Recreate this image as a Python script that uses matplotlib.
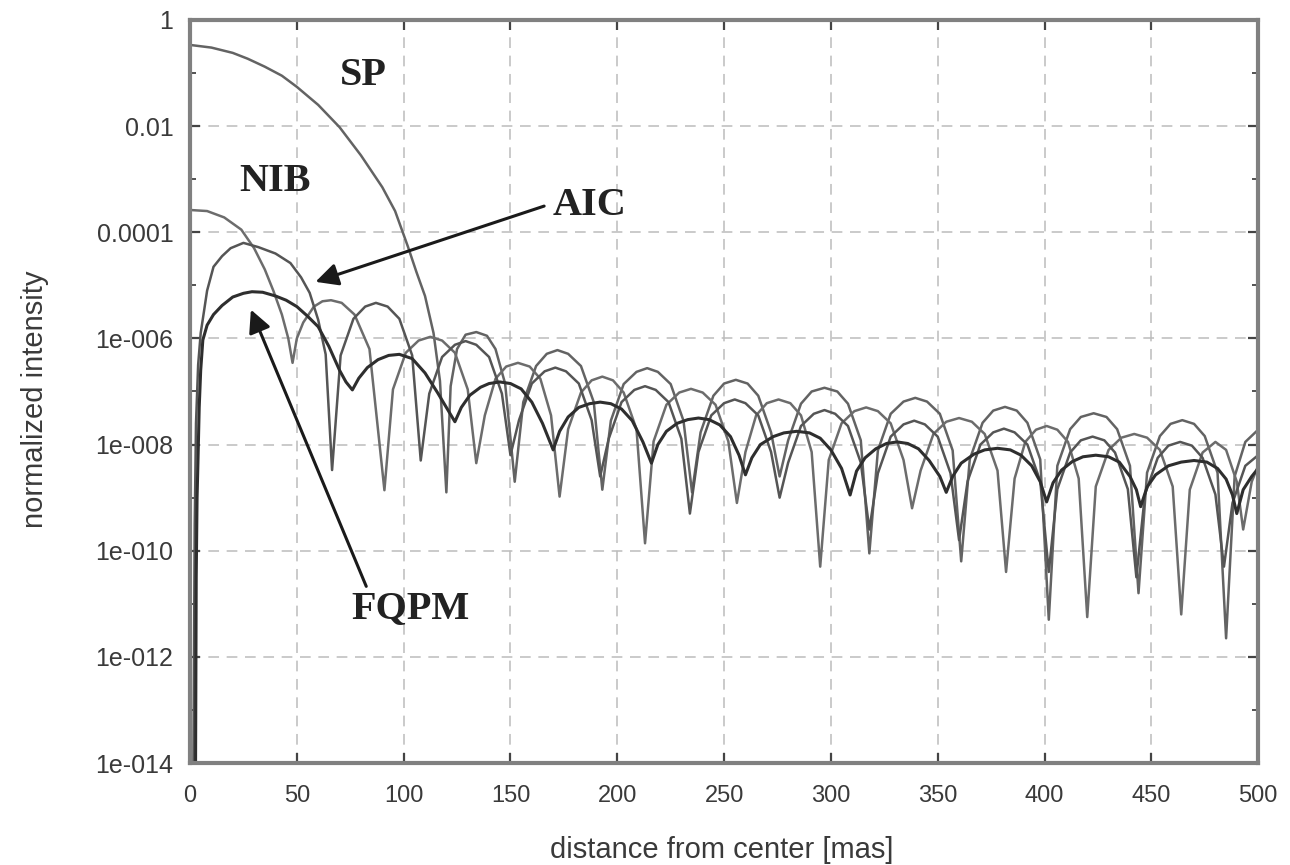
import matplotlib
matplotlib.use("Agg")
import matplotlib.pyplot as plt
import numpy as np
from matplotlib.ticker import FixedLocator, FixedFormatter, NullFormatter

# ---- data: distance [mas] and log10(normalized intensity) -------------------
sp_x = [0, 10, 20, 27, 35, 43, 50, 60, 70, 80, 90, 96, 102, 106, 110, 114, 117, 120,
        122, 125, 129, 134, 139, 143, 147.5, 152,
        156, 162, 167, 172, 177, 183, 189, 193,
        197, 203, 209, 214, 219, 225, 231, 235,
        239, 245, 250, 255.5, 261, 266, 272, 276,
        280, 286, 291, 297, 303, 308, 314, 318,
        322, 328, 334, 339.5, 345, 351, 357, 361,
        365, 371, 376, 381.5, 387, 392, 398, 402,
        406, 412, 417, 423, 429, 434, 440, 444,
        448, 454, 459, 464.5, 470, 475, 481, 485,
        489, 494, 500]
sp_y = [-0.47, -0.52, -0.62, -0.73, -0.88, -1.05, -1.26, -1.6, -2.02, -2.55, -3.15, -3.6, -4.27, -4.75, -5.2, -5.9, -6.8, -8.9,
        -6.9, -6.2, -5.93, -5.88, -5.95, -6.2, -6.85, -8.7,
        -7.2, -6.52, -6.29, -6.22, -6.29, -6.52, -7.2, -8.85,
        -7.55, -6.86, -6.63, -6.56, -6.63, -6.86, -7.55, -8.9,
        -7.77, -7.08, -6.85, -6.78, -6.85, -7.08, -7.77, -8.6,
        -7.92, -7.23, -7.0, -6.93, -7.0, -7.23, -7.92, -10.05,
        -8.11, -7.42, -7.19, -7.12, -7.19, -7.42, -8.11, -10.2,
        -8.28, -7.59, -7.36, -7.29, -7.36, -7.59, -8.28, -11.3,
        -8.4, -7.71, -7.48, -7.41, -7.48, -7.71, -8.4, -10.8,
        -8.53, -7.84, -7.61, -7.54, -7.61, -7.84, -8.53, -11.65,
        -8.6, -7.95, -7.72]

nib_x = [0, 8, 16, 24, 30, 35, 39, 43, 46, 48,
         50, 53, 58, 62, 66, 71, 77, 84, 91,
         95, 101, 107, 112.5, 118, 124, 130, 134,
         138, 143, 148, 153.5, 159, 164, 169, 173,
         177, 183, 188, 193, 198, 203, 209, 213,
         217, 223, 229, 234.5, 240, 246, 252, 256,
         260, 265, 270, 275.5, 281, 286, 291, 295,
         299, 305, 311, 316.5, 322, 328, 334, 338,
         342, 348, 354, 360, 366, 372, 378, 382,
         386, 391, 396, 401, 406, 411, 416, 420,
         424, 430, 436, 442, 448, 454, 460, 464,
         468, 474, 480, 485, 490, 493, 497, 500]
nib_y = [-3.58, -3.6, -3.72, -3.95, -4.3, -4.7, -5.1, -5.55, -6.0, -6.46,
         -6.0, -5.7, -5.4, -5.3, -5.28, -5.33, -5.55, -6.2, -8.86,
         -6.96, -6.27, -6.04, -5.97, -6.04, -6.27, -6.96, -8.35,
         -7.45, -6.76, -6.53, -6.46, -6.53, -6.76, -7.45, -8.98,
         -7.71, -7.02, -6.79, -6.72, -6.79, -7.02, -7.71, -9.86,
         -7.94, -7.25, -7.02, -6.95, -7.02, -7.25, -7.94, -9.1,
         -8.14, -7.45, -7.22, -7.15, -7.22, -7.45, -8.14, -10.3,
         -8.29, -7.6, -7.37, -7.3, -7.37, -7.6, -8.29, -9.2,
         -8.49, -7.8, -7.57, -7.5, -7.57, -7.8, -8.49, -10.4,
         -8.64, -7.95, -7.72, -7.65, -7.72, -7.95, -8.64, -11.25,
         -8.79, -8.1, -7.87, -7.8, -7.87, -8.1, -8.79, -11.2,
         -8.85, -8.15, -7.95, -8.1, -8.7, -9.6, -8.7, -8.4]

aic_x = [1.6, 2.2, 2.8, 3.8, 5, 8, 11, 15, 19, 25, 32, 40, 47, 52, 56, 60, 63.5, 66.5,
         70.5, 76.5, 82, 87, 92.5, 98, 104, 108,
         112, 118, 124, 129, 134, 140, 146, 150,
         154, 160, 166, 171, 176, 182, 188, 192,
         196, 202, 208, 213, 218, 224, 230, 234,
         238, 244, 250, 255, 260, 266, 272, 276,
         280, 286, 292, 297, 302, 308, 314, 318,
         322, 328, 334, 339, 344, 350, 356, 360,
         364, 370, 376, 381, 386, 392, 398, 402,
         406, 412, 417, 422.5, 428, 433, 439, 443,
         447, 453, 458, 463.5, 469, 474, 480, 484,
         488, 494, 500]
aic_y = [-14, -9.5, -7.6, -6.5, -5.9, -5.1, -4.65, -4.45, -4.3, -4.2, -4.28, -4.4, -4.58, -4.85, -5.14, -5.65, -6.3, -8.48,
         -6.32, -5.63, -5.4, -5.33, -5.4, -5.63, -6.32, -8.3,
         -7.04, -6.35, -6.12, -6.05, -6.12, -6.35, -7.04, -8.2,
         -7.54, -6.85, -6.62, -6.55, -6.62, -6.85, -7.54, -8.6,
         -7.89, -7.2, -6.97, -6.9, -6.97, -7.2, -7.89, -9.3,
         -8.14, -7.45, -7.22, -7.15, -7.22, -7.45, -8.14, -9.0,
         -8.34, -7.65, -7.42, -7.35, -7.42, -7.65, -8.34, -9.6,
         -8.54, -7.85, -7.62, -7.55, -7.62, -7.85, -8.54, -9.8,
         -8.69, -8.0, -7.77, -7.7, -7.77, -8.0, -8.69, -10.4,
         -8.84, -8.15, -7.92, -7.85, -7.92, -8.15, -8.84, -10.5,
         -8.94, -8.25, -8.02, -7.95, -8.02, -8.25, -8.94, -10.3,
         -9.1, -8.4, -8.2]

fqpm_x = [2.6, 2.9, 3.3, 3.7, 4.3, 5.0, 6.0, 8, 11, 15, 20, 25, 29, 34, 40, 45, 50, 55, 60, 65, 70, 73, 76,
          79, 83, 88, 93, 98, 104, 110, 116, 120, 124,
          127, 131, 136, 140, 145, 150, 155, 160, 165, 170,
          173, 177, 182, 187, 192, 197, 202, 207, 212, 216,
          219, 223, 228, 233, 238, 243, 248, 253, 257, 260,
          263, 267, 273, 278, 284, 290, 295, 300, 305, 309,
          312, 316, 321, 326, 331, 336, 341, 346, 351, 354,
          357, 361, 367, 372, 378, 384, 389, 394, 398, 401,
          404, 408, 413, 418, 424, 430, 435, 440, 443, 445,
          448, 452, 458, 464, 470, 476, 481, 485, 488, 490,
          493, 497, 500]
fqpm_y = [-14, -10.5, -9.0, -8.35, -7.3, -6.6, -6.03, -5.75, -5.55, -5.38, -5.22, -5.15, -5.12, -5.13, -5.2, -5.28, -5.4, -5.58, -5.78, -6.15, -6.6, -6.82, -6.97,
          -6.75, -6.55, -6.4, -6.32, -6.3, -6.38, -6.65, -7.03, -7.3, -7.57,
          -7.3, -7.07, -6.92, -6.85, -6.82, -6.85, -6.95, -7.2, -7.6, -8.1,
          -7.75, -7.48, -7.3, -7.23, -7.2, -7.23, -7.33, -7.55, -7.95, -8.35,
          -8.0, -7.75, -7.6, -7.53, -7.5, -7.53, -7.63, -7.85, -8.2, -8.57,
          -8.25, -8.0, -7.85, -7.78, -7.75, -7.78, -7.88, -8.1, -8.45, -8.95,
          -8.5, -8.25, -8.08, -7.98, -7.95, -7.98, -8.08, -8.3, -8.6, -8.9,
          -8.6, -8.35, -8.18, -8.1, -8.07, -8.1, -8.2, -8.4, -8.7, -9.08,
          -8.72, -8.48, -8.32, -8.23, -8.2, -8.23, -8.33, -8.6, -8.85, -9.17,
          -8.8, -8.57, -8.4, -8.33, -8.3, -8.33, -8.45, -8.65, -8.95, -9.3,
          -8.85, -8.6, -8.45]

y_tick_exp = [0, -2, -4, -6, -8, -10, -12, -14]
y_tick_labels = ["1", "0.01", "0.0001", "1e-006", "1e-008", "1e-010", "1e-012", "1e-014"]
y_minor_exp = [-1, -3, -5, -7, -9, -11, -13]
x_ticks = [0, 50, 100, 150, 200, 250, 300, 350, 400, 450, 500]

fig = plt.figure(figsize=(12.9, 8.65), dpi=100)
ax = fig.add_axes([0.1473, 0.1179, 0.828, 0.859])

ax.plot(sp_x, 10.0 ** np.array(sp_y), color="#636363", lw=1.8)
ax.plot(nib_x, 10.0 ** np.array(nib_y), color="#6c6c6c", lw=1.8)
ax.plot(aic_x, 10.0 ** np.array(aic_y), color="#555555", lw=1.8)
ax.plot(fqpm_x, 10.0 ** np.array(fqpm_y), color="#2e2e2e", lw=2.2)

ax.set_yscale("log")
ax.set_xlim(0, 500)
ax.set_ylim(1e-14, 1)
ax.yaxis.set_major_locator(FixedLocator([10.0 ** e for e in y_tick_exp]))
ax.yaxis.set_major_formatter(FixedFormatter(y_tick_labels))
ax.yaxis.set_minor_locator(FixedLocator([10.0 ** e for e in y_minor_exp]))
ax.yaxis.set_minor_formatter(NullFormatter())
ax.set_xticks(x_ticks)

ax.grid(True, which="major", color="#bcbcbc", linestyle=(0, (7, 5)), lw=1.1)
ax.set_axisbelow(True)
for sp in ax.spines.values():
    sp.set_color("#808080")
    sp.set_linewidth(3)
ax.tick_params(which="both", direction="in", top=True, right=True, color="#444444")
ax.tick_params(which="major", length=7, width=1.6, labelcolor="#3a3a3a")
ax.tick_params(axis="y", which="major", labelsize=18, pad=12)
ax.tick_params(axis="x", which="major", labelsize=17, pad=16)
ax.tick_params(which="minor", length=4, width=1.3)
for lab in ax.get_xticklabels() + ax.get_yticklabels():
    lab.set_family("Liberation Sans")

ax.set_xlabel("distance from center [mas]", fontsize=21, color="#3a3a3a",
              family="Liberation Sans", va="center")
ax.set_ylabel("normalized intensity", fontsize=21, color="#3a3a3a",
              family="Liberation Sans", va="center")
ax.xaxis.set_label_coords(0.498, -0.117)
ax.yaxis.set_label_coords(-0.145, 0.489)

lab_kw = dict(fontsize=29, fontweight="bold", family="Liberation Serif", color="#222222",
              ha="center", va="center")
ax.text(81, 10 ** -1.04, "SP", **lab_kw)
ax.text(40, 10 ** -3.05, "NIB", **lab_kw)
ax.text(187, 10 ** -3.49, "AIC", **lab_kw)
ax.text(103, 10 ** -11.08, "FQPM", **lab_kw)

arrow_kw = dict(arrowstyle="-|>", color="#1a1a1a", lw=2.2, mutation_scale=34)
ax.annotate("", xy=(57.5, 10 ** -4.95), xytext=(167, 10 ** -3.49), arrowprops=arrow_kw)
ax.annotate("", xy=(28, 10 ** -5.41), xytext=(83, 10 ** -10.72), arrowprops=arrow_kw)

fig.savefig("out.png", dpi=100)
